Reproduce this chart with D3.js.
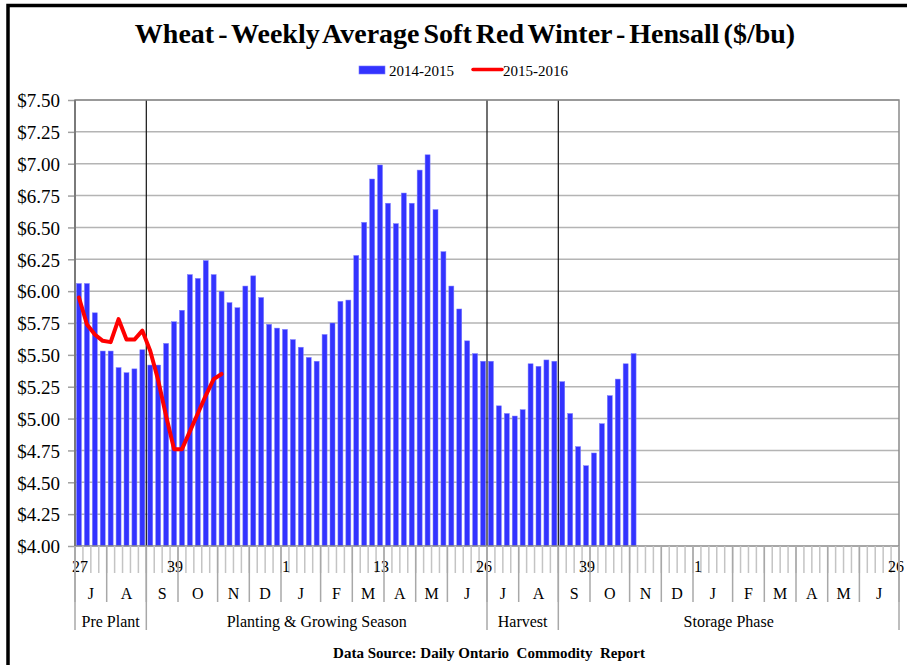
<!DOCTYPE html>
<html>
<head>
<meta charset="utf-8">
<script src="https://cdn.jsdelivr.net/npm/d3@7"></script>
<style>
  body { margin: 0; background: #fff; }
  svg { display: block; font-family: "Liberation Serif", "Times New Roman", serif; }
</style>
</head>
<body>
<svg width="907" height="665"></svg>
<script>
// weekly prices, one per week starting at week 27
var prices1415 = [6.06,6.06,5.83,5.53,5.53,5.40,5.36,5.39,5.54,5.42,
  5.42,5.59,5.76,5.85,6.13,6.10,6.24,6.13,6.00,5.91,
  5.87,6.04,6.12,5.95,5.74,5.71,5.70,5.62,5.56,5.48,
  5.45,5.66,5.75,5.92,5.93,6.28,6.54,6.88,6.99,6.69,
  6.53,6.77,6.69,6.95,7.07,6.64,6.31,6.04,5.86,5.61,
  5.51,5.45,5.45,5.10,5.04,5.02,5.07,5.43,5.41,5.46,
  5.45,5.29,5.04,4.78,4.63,4.73,4.96,5.18,5.31,5.43,5.51];
var prices1516 = [5.95,5.74,5.66,5.61,5.60,5.78,5.62,5.62,5.69,5.53,
  5.30,5.02,4.76,4.76,4.90,5.04,5.18,5.31,5.35];

var seriesNames = ["2014-2015", "2015-2016"];
var weekNums = d3.range(27, 53).concat(d3.range(1, 53), d3.range(1, 27));
var shownWeeks = [0, 12, 26, 38, 51, 64, 78, 103]; // which week slots get a label
var months = ["J","A","S","O","N","D","J","F","M","A","M","J",
              "J","A","S","O","N","D","J","F","M","A","M","J"];
var monthWeeks = [4,5,4,5,4,4,5,4,4,4,4,5, 4,5,4,5,4,4,5,4,4,4,4,5];
var phases = ["Pre Plant", "Planting & Growing Season", "Harvest", "Storage Phase"];
var phaseWeeks = [9, 43, 9, 43];
var yTicks = d3.range(4, 7.51, 0.25);

var svg = d3.select("svg");
// note: "top" is taken by window.top, so plot edges get their own names
var plotL = 75, plotR = 899, plotT = 100, plotB = 546;

var x = d3.scaleBand().domain(d3.range(weekNums.length))
  .range([plotL, plotR]).paddingInner(0.37).paddingOuter(0.185);
var step = x.step();
var y = d3.scaleLinear().domain([4, 7.5]).range([plotB, plotT]);

// outer frame
svg.append("rect").attr("x", 8).attr("y", 5.5).attr("width", 1000).attr("height", 1000)
  .attr("fill", "none").attr("stroke", "#000").attr("stroke-width", 3.5);

// title + legend
svg.append("text").attr("x", 465).attr("y", 43).attr("text-anchor", "middle")
  .attr("font-size", 28).attr("font-weight", "bold").attr("word-spacing", -3)
  .text("Wheat - Weekly Average Soft Red Winter - Hensall ($/bu)");

svg.append("rect").attr("x", 359).attr("y", 66).attr("width", 26).attr("height", 8)
  .attr("fill", "#3333ff").attr("stroke", "#7777ff").attr("stroke-width", 0.6);
svg.append("text").attr("x", 389).attr("y", 75.5).attr("font-size", 15).text(seriesNames[0]);
svg.append("line").attr("x1", 473).attr("x2", 502).attr("y1", 69.5).attr("y2", 69.5)
  .attr("stroke", "red").attr("stroke-width", 3.5).attr("stroke-linecap", "round");
svg.append("text").attr("x", 503).attr("y", 75.5).attr("font-size", 15).text(seriesNames[1]);

// gridlines
svg.append("g").selectAll("line").data(yTicks.slice(1)).join("line")
  .attr("x1", plotL).attr("x2", plotR)
  .attr("y1", function(d) { return y(d); }).attr("y2", function(d) { return y(d); })
  .attr("stroke", "#b4b4b4").attr("stroke-width", 1.5);

// y axis
var yAxis = svg.append("g").attr("transform", "translate(" + plotL + ",0)")
  .call(d3.axisLeft(y).tickValues(yTicks).tickFormat(d3.format("$.2f")).tickSize(7).tickPadding(8));
yAxis.select(".domain").remove();
yAxis.selectAll(".tick line").attr("stroke", "#a0a0a0").attr("stroke-width", 1.5);
yAxis.selectAll(".tick text").attr("font-size", 19).attr("fill", "#000")
  .attr("font-family", "Liberation Serif, Times New Roman, serif").attr("dy", "0.36em");

// bars
svg.append("g").selectAll("rect").data(prices1415).join("rect")
  .attr("x", function(d, i) { return x(i); })
  .attr("width", x.bandwidth())
  .attr("y", function(d) { return y(d); })
  .attr("height", function(d) { return y(4) - y(d); })
  .attr("fill", "#3333ff").attr("stroke", "#8080ff").attr("stroke-width", 0.5);

// phase separator lines inside the plot
var phaseEdges = [];
var acc = 0;
phaseWeeks.forEach(function(n) { phaseEdges.push(acc); acc += n; });
svg.append("g").selectAll("line").data(phaseEdges.slice(1)).join("line")
  .attr("x1", function(d) { return plotL + d * step; })
  .attr("x2", function(d) { return plotL + d * step; })
  .attr("y1", plotT).attr("y2", plotB)
  .attr("stroke", "#111").attr("stroke-width", 1.2);

// 2015-2016 line
var line = d3.line()
  .x(function(d, i) { return x(i) + x.bandwidth() / 2; })
  .y(function(d) { return y(d); });
svg.append("path").datum(prices1516).attr("d", line)
  .attr("fill", "none").attr("stroke", "#ff0000").attr("stroke-width", 4)
  .attr("stroke-linejoin", "round").attr("stroke-linecap", "round");

// plot border
svg.append("rect").attr("x", plotL).attr("y", plotT).attr("width", plotR - plotL).attr("height", plotB - plotT)
  .attr("fill", "none").attr("stroke", "#8a8a8a").attr("stroke-width", 1.5);
svg.append("line").attr("x1", plotL).attr("x2", plotL).attr("y1", plotT).attr("y2", plotB)
  .attr("stroke", "#7a7a7a").attr("stroke-width", 2);

// multi-level category axis
var axisG = svg.append("g");
axisG.selectAll("line.wk").data(d3.range(weekNums.length + 1)).join("line")
  .attr("x1", function(d) { return plotL + d * step; })
  .attr("x2", function(d) { return plotL + d * step; })
  .attr("y1", plotB).attr("y2", plotB + 27)
  .attr("stroke", "#c4c4c4").attr("stroke-width", 1.5);

axisG.selectAll("text.wk").data(shownWeeks).join("text")
  .attr("x", function(d) { return x(d) + x.bandwidth() / 2 + 1; })
  .attr("y", plotB + 26).attr("text-anchor", "middle").attr("font-size", 16)
  .text(function(d) { return weekNums[d]; });

var monthEdges = [];
acc = 0;
monthWeeks.forEach(function(n) { monthEdges.push(acc); acc += n; });
monthEdges.push(acc);
axisG.selectAll("line.mo").data(monthEdges).join("line")
  .attr("x1", function(d) { return plotL + d * step; })
  .attr("x2", function(d) { return plotL + d * step; })
  .attr("y1", plotB).attr("y2", plotB + 56)
  .attr("stroke", "#a8a8a8").attr("stroke-width", 1.5);
axisG.selectAll("text.mo").data(months).join("text")
  .attr("x", function(d, i) { return plotL + (monthEdges[i] + monthWeeks[i] / 2) * step; })
  .attr("y", plotB + 53).attr("text-anchor", "middle").attr("font-size", 16)
  .text(function(d) { return d; });

phaseEdges.push(acc);
axisG.selectAll("line.ph").data(phaseEdges).join("line")
  .attr("x1", function(d) { return plotL + d * step; })
  .attr("x2", function(d) { return plotL + d * step; })
  .attr("y1", plotB).attr("y2", plotB + 84)
  .attr("stroke", "#a8a8a8").attr("stroke-width", 1.5);
axisG.selectAll("text.ph").data(phases).join("text")
  .attr("x", function(d, i) { return plotL + (phaseEdges[i] + phaseWeeks[i] / 2) * step; })
  .attr("y", plotB + 81).attr("text-anchor", "middle").attr("font-size", 16)
  .text(function(d) { return d; });

// source note
svg.append("text").attr("x", 489).attr("y", 658).attr("text-anchor", "middle")
  .attr("font-size", 15).attr("font-weight", "bold").style("white-space", "pre")
  .text("Data Source: Daily Ontario  Commodity  Report");
</script>
</body>
</html>
